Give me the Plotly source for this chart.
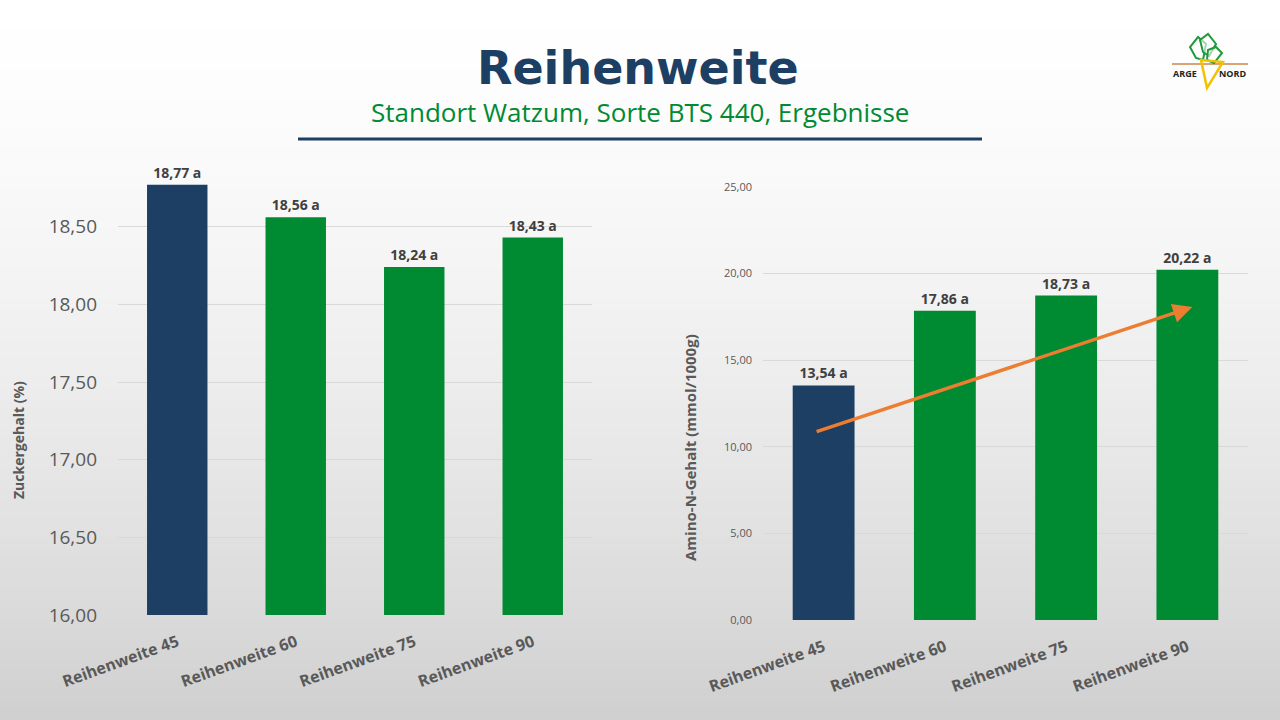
import plotly.graph_objects as go

# data
categories = ["Reihenweite 45", "Reihenweite 60", "Reihenweite 75", "Reihenweite 90"]
zucker = [18.77, 18.56, 18.24, 18.43]
amino_n = [13.54, 17.86, 18.73, 20.22]
signif_zucker = ["a", "a", "a", "a"]
signif_amino = ["a", "a", "a", "a"]
zucker_ticks = [16.0, 16.5, 17.0, 17.5, 18.0, 18.5]
amino_ticks = [0, 5, 10, 15, 20, 25]
# hand drawn trend arrow on the right chart: (category position, value)
trend_start = (-0.07, 10.85)
trend_end = (3.04, 18.07)

W, H = 1280, 720
BLUE = "#1D3F63"
GREEN = "#008A32"
GREY = "#595959"
LABEL = "#404040"
bar_colors = [BLUE, GREEN, GREEN, GREEN]


def de(v):
    # german decimal comma
    return f"{v:.2f}".replace(".", ",")


def px(x, y):
    # pixel -> paper coords
    return x / W, 1 - y / H


fig = go.Figure()

fig.add_trace(go.Bar(
    x=categories, y=zucker, xaxis="x", yaxis="y",
    marker=dict(color=bar_colors, line=dict(width=0)),
    text=[de(v) + " " + s for v, s in zip(zucker, signif_zucker)],
    textposition="outside", cliponaxis=False,
    textfont=dict(family="Open Sans", size=14, color=LABEL, weight="bold"),
    hoverinfo="skip",
))

fig.add_trace(go.Bar(
    x=categories, y=amino_n, xaxis="x2", yaxis="y2",
    marker=dict(color=bar_colors, line=dict(width=0)),
    text=[de(v) + " " + s for v, s in zip(amino_n, signif_amino)],
    textposition="outside", cliponaxis=False,
    textfont=dict(family="Open Sans", size=14, color=LABEL, weight="bold"),
    hoverinfo="skip",
))

# background gradient, white at top to light grey at the bottom
shapes = []
n_bands = 72
for i in range(n_bands):
    t = (i + 0.5) / n_bands
    c = int(round(255 - 47 * t ** 1.5))
    y0 = 1 - i / n_bands
    y1 = 1 - (i + 1) / n_bands
    shapes.append(dict(type="rect", xref="paper", yref="paper", x0=0, x1=1,
                       y0=y1, y1=min(1, y0 + 0.002), fillcolor=f"rgb({c},{c},{c})",
                       line=dict(width=0), layer="below"))

# line under the title
x0, y0 = px(298, 139)
x1, _ = px(982, 139)
shapes.append(dict(type="line", xref="paper", yref="paper", x0=x0, x1=x1, y0=y0, y1=y0,
                   line=dict(color=BLUE, width=3)))

# little ARGE NORD logo
def path(points, close=True):
    s = ""
    for k, (a, b) in enumerate(points):
        xa, ya = px(a, b)
        s += ("M" if k == 0 else "L") + f"{xa:.5f},{ya:.5f} "
    return s + ("Z" if close else "")

shapes.append(dict(type="path", xref="paper", yref="paper",
                   path=path([(1172, 64), (1248, 64)], close=False),
                   line=dict(color="#C8874A", width=1.5)))
for leaf in ([(1190, 47), (1198, 37), (1206, 44), (1203, 60), (1196, 58)],
             [(1200, 40), (1208, 34), (1216, 44), (1209, 56), (1203, 52)],
             [(1208, 50), (1216, 47), (1222, 53), (1214, 63), (1207, 60)]):
    shapes.append(dict(type="path", xref="paper", yref="paper", path=path(leaf),
                       line=dict(color="#1E9A3A", width=2), fillcolor="rgba(255,255,255,0.6)"))
shapes.append(dict(type="path", xref="paper", yref="paper",
                   path=path([(1201, 60), (1223, 62), (1207, 88)]),
                   line=dict(color="#F2C200", width=2.5), fillcolor="rgba(255,255,255,0)"))

annotations = []
tx, ty = px(638, 68)
annotations.append(dict(xref="paper", yref="paper", x=tx, y=ty, showarrow=False,
                        text="<b>Reihenweite</b>", xanchor="center", yanchor="middle",
                        font=dict(family="DejaVu Sans", size=46, color=BLUE)))
tx, ty = px(640, 112)
annotations.append(dict(xref="paper", yref="paper", x=tx, y=ty, showarrow=False,
                        text="Standort Watzum, Sorte BTS 440, Ergebnisse",
                        xanchor="center", yanchor="middle",
                        font=dict(family="Open Sans", size=26, color=GREEN)))
tx, ty = px(18, 440)
annotations.append(dict(xref="paper", yref="paper", x=tx, y=ty, showarrow=False,
                        text="<b>Zuckergehalt (%)</b>", textangle=-90,
                        xanchor="center", yanchor="middle",
                        font=dict(family="Open Sans", size=14, color=GREY)))
tx, ty = px(690, 448)
annotations.append(dict(xref="paper", yref="paper", x=tx, y=ty, showarrow=False,
                        text="<b>Amino-N-Gehalt (mmol/1000g)</b>", textangle=-90,
                        xanchor="center", yanchor="middle",
                        font=dict(family="Open Sans", size=15, color=GREY)))
for txt, xx in (("ARGE", 1185), ("NORD", 1232)):
    tx, ty = px(xx, 74)
    annotations.append(dict(xref="paper", yref="paper", x=tx, y=ty, showarrow=False,
                            text="<b>" + txt + "</b>", xanchor="center", yanchor="middle",
                            font=dict(family="Open Sans", size=9, color="#222222")))
# trend arrow
annotations.append(dict(xref="x2", yref="y2", axref="x2", ayref="y2",
                        x=trend_end[0], y=trend_end[1], ax=trend_start[0], ay=trend_start[1],
                        text="", showarrow=True, arrowhead=2, arrowsize=1.1, arrowwidth=3.5,
                        arrowcolor="#ED7D31", standoff=0, startstandoff=0))

xl0, yl0 = px(118, 615)
xl1, yl1 = px(592, 149)
xr0, yr0 = px(763, 620)
xr1, yr1 = px(1248, 187)

tickfont_x = dict(family="Open Sans", size=16, color=GREY, weight="bold")

fig.update_layout(
    width=W, height=H, autosize=False,
    margin=dict(l=0, r=0, t=0, b=0, pad=0, autoexpand=False),
    paper_bgcolor="white", plot_bgcolor="rgba(0,0,0,0)",
    showlegend=False, bargap=0.49,
    shapes=shapes, annotations=annotations,
    xaxis=dict(domain=[xl0, xl1], anchor="y", tickangle=-20, tickfont=tickfont_x,
               showgrid=False, showline=False, ticks="", zeroline=False, automargin=False,
               ticklabelstandoff=14),
    yaxis=dict(domain=[yl0, yl1], anchor="x", range=[16, 19], tickvals=zucker_ticks,
               ticktext=[de(v) for v in zucker_ticks],
               tickfont=dict(family="Open Sans", size=19, color=GREY),
               showgrid=True, gridcolor="#D9D9D9", gridwidth=1, zeroline=False,
               ticklabelstandoff=20, showline=False, automargin=False),
    xaxis2=dict(domain=[xr0, xr1], anchor="y2", tickangle=-20, tickfont=tickfont_x,
                showgrid=False, showline=False, ticks="", zeroline=False, automargin=False,
                ticklabelstandoff=14),
    yaxis2=dict(domain=[yr0, yr1], anchor="x2", range=[0, 25], tickvals=amino_ticks,
                ticktext=[de(v) for v in amino_ticks],
                tickfont=dict(family="Open Sans", size=11, color=GREY),
                showgrid=True, gridcolor="#D9D9D9", gridwidth=1, zeroline=False,
                ticklabelstandoff=10, showline=False, automargin=False),
)

fig.write_html("out.html", config={"displayModeBar": False},
               post_script="document.body.style.margin='0';")
